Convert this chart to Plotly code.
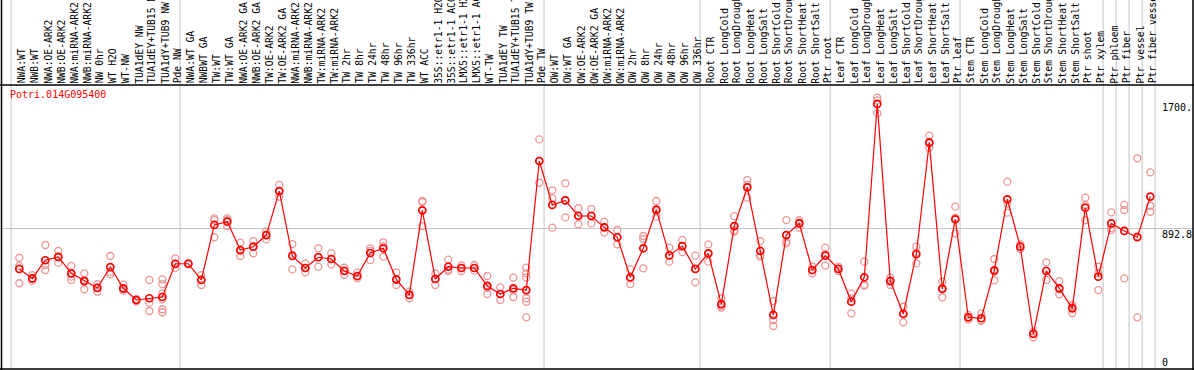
import plotly.graph_objects as go

gene_id = "Potri.014G095400"

labels = [
    "NWA:WT", "NWB:WT", "NWA:OE-ARK2", "NWB:OE-ARK2", "NWA:miRNA-ARK2", "NWB:miRNA-ARK2",
    "NW 0hr", "WT H2O", "WT-NW", "TUA1dEY NW", "TUA1dEY+TUB15 NW", "TUA1dY+TUB9 NW", "Pde NW",
    "NWA:WT GA", "NWBWT GA", "TW:WT", "TW:WT GA", "NWA:OE-ARK2 GA", "NWB:OE-ARK2 GA",
    "TW:OE-ARK2", "TW:OE-ARK2 GA", "NWA:miRNA-ARK2", "NWB:miRNA-ARK2", "TW:miRNA-ARK2",
    "TW:miRNA-ARK2", "TW 2hr", "TW 8hr", "TW 24hr", "TW 48hr", "TW 96hr", "TW 336hr", "WT ACC",
    "35S::etr1-1 H2O", "35S::etr1-1 ACC", "LMX5::etr1-1 H2O", "LMX5::etr1-1 ACC", "WT-TW",
    "TUA1dEY TW", "TUA1dEY+TUB15 TW", "TUA1dY+TUB9 TW", "Pde TW",
    "OW:WT", "OW:WT GA", "OW:OE-ARK2", "OW:OE-ARK2 GA", "OW:miRNA-ARK2", "OW:miRNA-ARK2",
    "OW 2hr", "OW 8hr", "OW 24hr", "OW 48hr", "OW 96hr", "OW 336hr",
    "Root CTR", "Root LongCold", "Root LongDrought", "Root LongHeat", "Root LongSalt",
    "Root ShortCold", "Root ShortDrought", "Root ShortHeat", "Root ShortSalt", "Ptr root",
    "Leaf CTR", "Leaf LongCold", "Leaf LongDrought", "Leaf LongHeat", "Leaf LongSalt",
    "Leaf ShortCold", "Leaf ShortDrought", "Leaf ShortHeat", "Leaf ShortSalt", "Ptr leaf",
    "Stem CTR", "Stem LongCold", "Stem LongDrought", "Stem LongHeat", "Stem LongSalt",
    "Stem ShortCold", "Stem ShortDrought", "Stem ShortHeat", "Stem ShortSalt", "Ptr shoot",
    "Ptr xylem", "Ptr phloem", "Ptr fiber", "Ptr vessel", "Ptr fiber vessel",
]

means = [
    635, 575, 690, 711, 607, 558, 514, 647, 512, 438, 449, 457, 668,
    668, 565, 914, 935, 755, 776, 850, 1129, 717, 641, 709, 698, 622, 590, 736, 766,
    569, 470, 1007, 571, 649, 641, 641, 527, 476, 512, 501, 1320,
    1041, 1070, 971, 971, 899, 836, 582, 766, 1011, 721, 780, 635,
    734, 412, 907, 1153, 749, 343, 850, 924, 628, 719,
    635, 427, 582, 1682, 558, 349, 728, 1438, 508, 950,
    328, 322, 626, 1077, 776, 222, 622, 512, 385, 1024, 586,
    924, 876, 836, 1094,
]

replicates = [
    [706, 654, 544], [596, 571, 559], [787, 660, 628], [749, 675, 708], [654, 586, 565],
    [607, 506, 565], [539, 520, 490], [717, 617, 601], [535, 505, 497], [445, 438, 430],
    [565, 421, 368], [569, 539, 480, 442, 379, 360], [702, 665, 640],
    [672, 668, 664], [596, 565, 533], [956, 945, 836], [956, 945, 907], [802, 748, 717],
    [812, 776, 734], [871, 850, 823], [1168, 1128, 1094], [793, 726, 632], [670, 641, 614],
    [766, 711, 649], [734, 698, 664], [643, 625, 598], [611, 586, 575], [766, 750, 692],
    [804, 780, 713], [611, 565, 533], [491, 470, 449], [1066, 1059, 907], [607, 573, 533],
    [694, 631, 622], [657, 641, 622], [660, 641, 624], [590, 515, 476], [518, 476, 438],
    [580, 500, 457], [643, 607, 580, 449, 427, 328], [1457, 1320, 1182],
    [1134, 1083, 897], [1178, 1070, 962], [1020, 975, 918], [1015, 975, 924], [935, 899, 866],
    [882, 836, 791], [632, 575, 539], [844, 825, 639], [1066, 1000, 967], [770, 721, 681],
    [819, 780, 742], [719, 635, 550],
    [791, 730, 681], [449, 400, 389], [970, 880, 871], [1199, 1170, 1087], [812, 722, 713],
    [431, 311, 273], [945, 808, 797], [945, 930, 898], [649, 628, 607], [770, 730, 656],
    [649, 635, 621], [480, 448, 353], [681, 535, 530], [1722, 1705, 1622], [580, 560, 533],
    [395, 356, 296], [776, 738, 670], [1481, 1430, 1404], [554, 515, 455], [1030, 960, 861],
    [343, 328, 313], [351, 310, 305], [698, 617, 563], [1189, 1050, 992], [791, 776, 761],
    [237, 228, 201], [677, 624, 565], [558, 505, 474], [406, 393, 355], [1087, 1040, 945],
    [649, 608, 501],
    [994, 896, 882], [1041, 1009, 575], [1337, 843, 328], [1248, 1036, 998],
]

# last index of each sample group (separators drawn after these)
group_ends = [-1, 12, 40, 52, 62, 72, 83, 84, 85, 86, 87]

y_label_values = [1700, 892.8, 0]
y_label_texts = ["1700.", "892.8", "0"]
mid_grid_value = 892.8

FONT = "DejaVu Sans Mono"
W, H = 1194, 370
TOP, BOT = 85, 1
PH = H - TOP - BOT

n = len(labels)
xs = list(range(n))
rep_x = [i for i, r in enumerate(replicates) for _ in r]
rep_y = [v for r in replicates for v in r]

fig = go.Figure()
fig.add_trace(go.Scatter(
    x=rep_x, y=rep_y, mode="markers",
    marker=dict(symbol="circle-open", size=7, color="rgb(236,150,150)", line=dict(width=1.3)),
    hoverinfo="skip",
))
fig.add_trace(go.Scatter(
    x=xs, y=means, mode="lines+markers",
    line=dict(color="rgb(255,0,0)", width=1.2),
    marker=dict(symbol="circle-open", size=7, color="rgb(255,0,0)", line=dict(width=1.7)),
))

shapes = []
top_paper = 1 + TOP / PH
for g in group_ends:
    shapes.append(dict(type="line", xref="x", yref="paper", x0=g + 0.37, x1=g + 0.37,
                       y0=0, y1=top_paper, line=dict(color="#c4c4c4", width=1), layer="below"))
# frame
shapes.append(dict(type="line", xref="paper", yref="paper", x0=0, x1=1, y0=1, y1=1,
                   line=dict(color="black", width=1.5)))
shapes.append(dict(type="line", xref="paper", yref="paper", x0=0, x1=1, y0=0, y1=0,
                   line=dict(color="black", width=1.5)))
shapes.append(dict(type="line", xref="paper", yref="paper", x0=1.5 / W, x1=1.5 / W,
                   y0=-BOT / PH, y1=top_paper, line=dict(color="black", width=1.5)))
shapes.append(dict(type="line", xref="paper", yref="paper", x0=1193 / W, x1=1193 / W,
                   y0=-BOT / PH, y1=top_paper, line=dict(color="black", width=1.5)))

annotations = []
for i, lab in enumerate(labels):
    annotations.append(dict(
        x=i, y=1 + 0.5 / PH, xref="x", yref="paper", text=lab, showarrow=False,
        textangle=-90, xanchor="center", yanchor="bottom", xshift=3,
        font=dict(family=FONT, size=9.7, color="black"), borderpad=0,
    ))
annotations.append(dict(
    x=8.5 / W, y=(H - BOT - 95) / PH, xref="paper", yref="paper", text=gene_id,
    showarrow=False, xanchor="left", yanchor="middle",
    font=dict(family=FONT, size=10, color="rgb(255,0,0)"), borderpad=0,
))
for v, t in zip(y_label_values, y_label_texts):
    annotations.append(dict(
        x=1161 / W, y=v, xref="paper", yref="y", text=t, showarrow=False,
        xanchor="left", yanchor="bottom" if v == 0 else "top",
        font=dict(family=FONT, size=10, color="black"), borderpad=0,
    ))

x0 = -19.3 / 13
x1 = (W - 19.3) / 13
ytop = PH / 0.15759

fig.update_layout(
    width=W, height=H,
    margin=dict(l=0, r=0, t=TOP, b=BOT, pad=0),
    paper_bgcolor="white", plot_bgcolor="white",
    showlegend=False,
    xaxis=dict(range=[x0, x1], showgrid=False, zeroline=False, showticklabels=False,
               showline=False, ticks=""),
    yaxis=dict(range=[0, ytop], tickvals=[mid_grid_value], showgrid=True,
               gridcolor="#c4c4c4", gridwidth=1, zeroline=False, showticklabels=False,
               showline=False, ticks=""),
    shapes=shapes,
    annotations=annotations,
)

fig.write_html(
    "out.html",
    config={"displayModeBar": False},
    post_script="document.body.style.margin='0';document.body.style.overflow='hidden';",
)
